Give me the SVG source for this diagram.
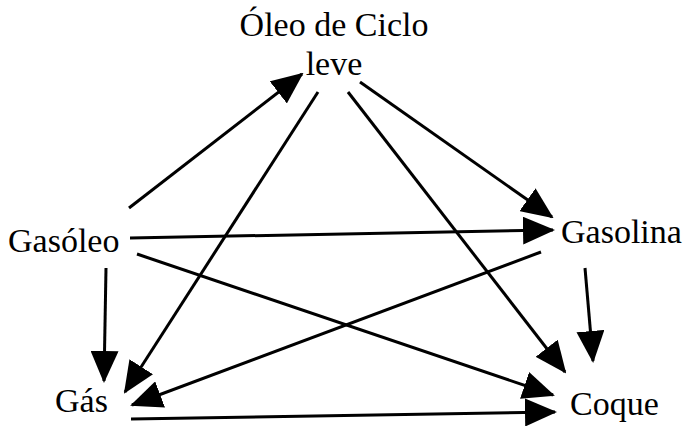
<svg xmlns="http://www.w3.org/2000/svg" width="685" height="427" viewBox="0 0 685 427">
<defs>
<marker id="ah" viewBox="0 0 32 28" refX="30" refY="14" markerWidth="32" markerHeight="28" markerUnits="userSpaceOnUse" orient="auto">
<path d="M0,0 L32,14 L0,28 Z" fill="#000"/>
</marker>
<style>
.lbl{font-family:"Liberation Serif","Times New Roman",serif;font-size:34px;fill:#000}
.edge{stroke:#000;stroke-width:3;fill:none;marker-end:url(#ah)}
</style>
</defs>
<rect width="685" height="427" fill="#fff"/>
<g id="connectors">
<line class="edge" x1="129" y1="208" x2="302" y2="74"/>
<line class="edge" x1="318" y1="92" x2="125" y2="392"/>
<line class="edge" x1="360" y1="82" x2="552" y2="217"/>
<line class="edge" x1="348" y1="92" x2="565" y2="372"/>
<line class="edge" x1="130" y1="238" x2="553" y2="230"/>
<line class="edge" x1="137" y1="254" x2="553" y2="395"/>
<line class="edge" x1="106" y1="268" x2="104" y2="381"/>
<line class="edge" x1="541" y1="252" x2="132" y2="405"/>
<line class="edge" x1="585" y1="268" x2="593" y2="361"/>
<line class="edge" x1="131" y1="419" x2="555" y2="412"/>
</g>
<g id="oleo"><text class="lbl" x="334" y="36" text-anchor="middle">Óleo de Ciclo</text><text class="lbl" x="334" y="75" text-anchor="middle">leve</text></g>
<g id="gasoleo"><text class="lbl" x="8" y="252">Gasóleo</text></g>
<g id="gasolina"><text class="lbl" x="561" y="243">Gasolina</text></g>
<g id="gas"><text class="lbl" x="55" y="412">Gás</text></g>
<g id="coque"><text class="lbl" x="570" y="415">Coque</text></g>
</svg>
